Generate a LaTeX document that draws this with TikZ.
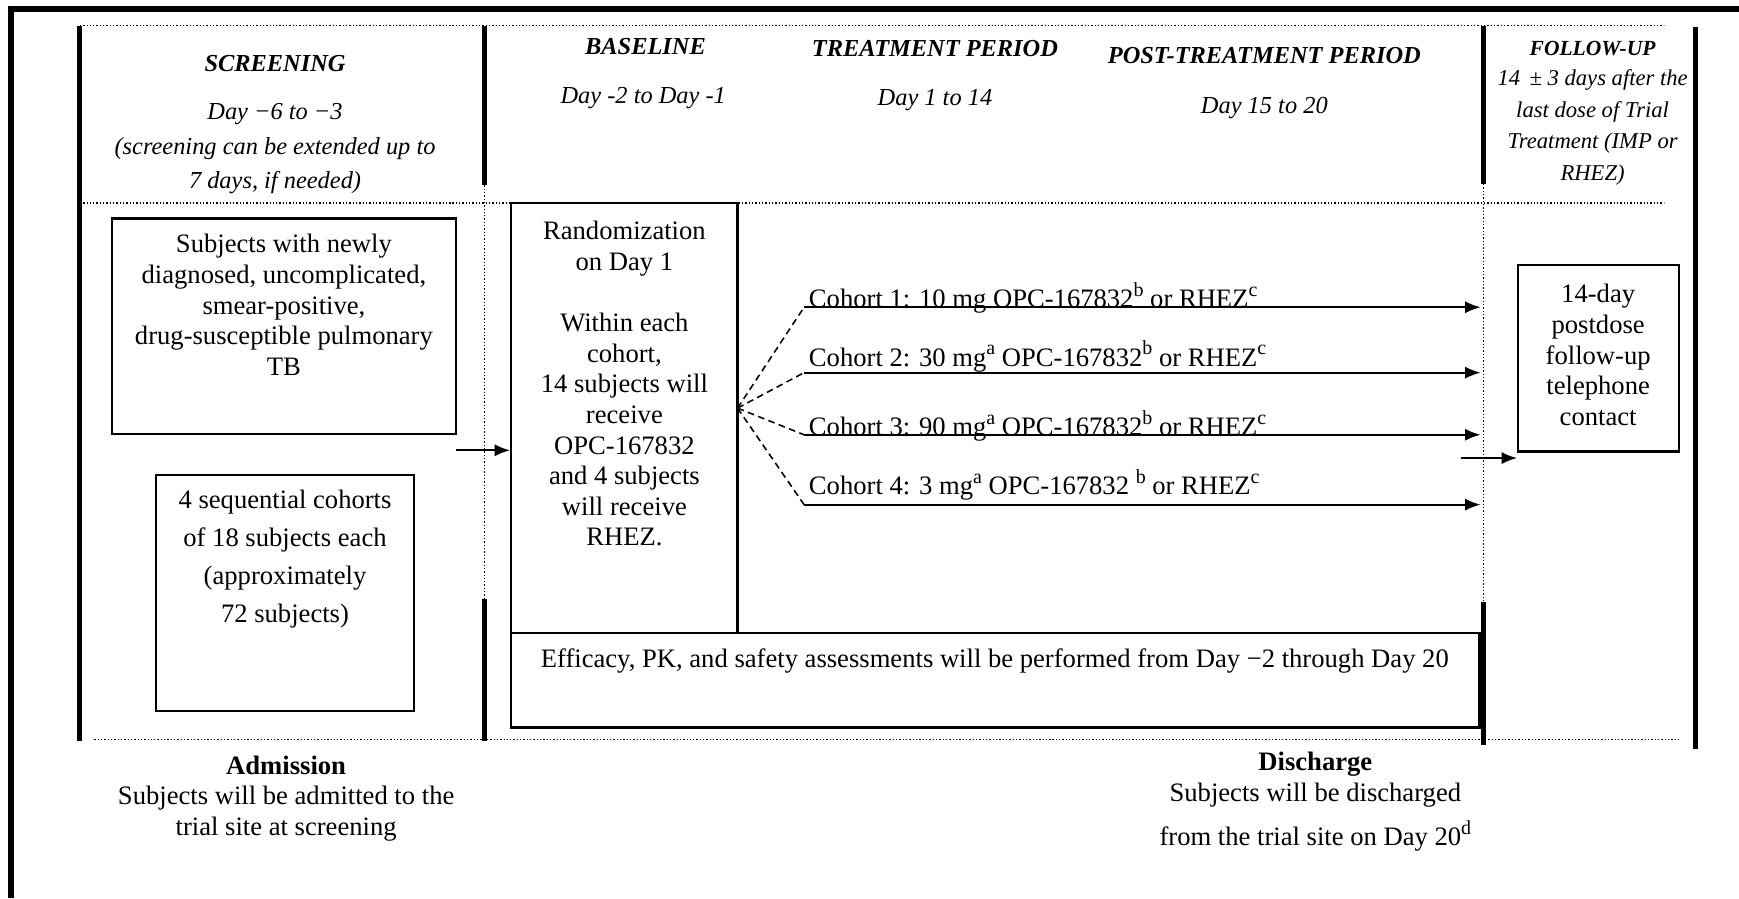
\documentclass[tikz,border=0pt]{standalone}
\usepackage{fontspec}
\setmainfont{Liberation Serif}
\usetikzlibrary{fit,arrows.meta}

\newcommand{\supr}[1]{\raisebox{0.42em}{\fontsize{9}{9}\selectfont #1}}

\tikzset{
  frame/.style={line width=2.5pt},
  bar/.style={line width=2.2pt},
  grid/.style={line width=0.5pt, dash pattern=on 0.6pt off 0.9pt},
  box/.style={draw, line width=1pt, inner sep=0pt},
  txt/.style={align=center, inner sep=0pt, font=\fontsize{12}{13.8}\selectfont},
  head/.style={inner sep=0pt, font=\fontsize{11}{13}\selectfont\bfseries\itshape},
  days/.style={align=center, inner sep=0pt, font=\fontsize{11}{15.5}\selectfont\itshape},
  flow/.style={line width=1pt, -{Latex[length=7pt,width=5.5pt]}},
  split/.style={line width=0.7pt, dash pattern=on 3pt off 2pt},
}

\begin{document}
\begin{tikzpicture}[x=0.5pt,y=-0.5pt]
	\useasboundingbox (0,0) rectangle (1568,810);
	
	% outer frame
	\draw[frame] (1568,8) -- (10,8) -- (10,810);
	
	% period grid
	\draw[grid] (72,23) -- (1500,23);
	\draw[grid] (72,183) -- (1500,183);
	\draw[grid] (85,667) -- (1515,667);
	\draw[grid] (437,167) -- (437,540);
	\draw[grid] (1338,166) -- (1338,543);
	
	\draw[bar] (72,23) -- (72,668);
	\draw[bar] (437,23) -- (437,167);
	\draw[bar] (437,540) -- (437,668);
	\draw[bar] (1338,23) -- (1338,166);
	\draw[bar] (1338,543) -- (1338,672);
	\draw[bar] (1529,24) -- (1529,675);
	
	% headings
	\node[head] (scrhead) at (248,57) {SCREENING};
	\node[days] (scrdays) at (248,134) {Day −6 to −3\\(screening can be extended up to\\7 days, if needed)};
	\node[head] (basehead) at (582,42) {BASELINE};
	\node[days] (basedays) at (580,88) {Day -2 to Day -1};
	\node[head] (trthead) at (843,44) {TREATMENT PERIOD};
	\node[days] (trtdays) at (843,90) {Day 1 to 14};
	\node[head] (posthead) at (1140,50) {POST-TREATMENT PERIOD};
	\node[days] (postdays) at (1140,97) {Day 15 to 20};
	\node[head, font=\fontsize{9.7}{12}\selectfont\bfseries\itshape] (fuhead) at (1436,44) {FOLLOW-UP};
	\node[days, font=\fontsize{10.2}{14.2}\selectfont\itshape] (fudays) at (1436,115) {14 \,± 3 days after the\\last dose of Trial\\Treatment (IMP or\\RHEZ)};
	
	% boxes
	\node[box, fit={(101,197) (411,391)}] (subj) {};
	\node[txt] (subjtxt) at (256,275) {Subjects with newly\\diagnosed, uncomplicated,\\smear-positive,\\drug-susceptible pulmonary\\TB};
	
	\node[box, fit={(141,428) (373,641)}] (coh) {};
	\node[txt, font=\fontsize{12}{17.2}\selectfont] (cohtxt) at (257,504) {4 sequential cohorts\\of 18 subjects each\\(approximately\\72 subjects)};
	
	\node[box, fit={(461,183) (665,571)}] (rand) {};
	\node[txt] (randtxt) at (563,346) {Randomization\\on Day 1\\[13.8pt]Within each\\cohort,\\14 subjects will\\receive\\OPC-167832\\and 4 subjects\\will receive\\RHEZ.};
	
	\node[box, fit={(461,571) (1334,656)}] (eff) {};
	\node[txt] (efftxt) at (897,596) {Efficacy, PK, and safety assessments will be performed from Day −2 through Day 20};
	
	\node[box, fit={(1369,239) (1514,407)}] (fu) {};
	\node[txt] (futxt) at (1441,320) {14-day\\postdose\\follow-up\\telephone\\contact};
	
	% arrows
	\coordinate (entry) at (411,406);
	\draw[flow] (entry) -- (entry -| rand.west);
	
	\coordinate (fan) at (665,368);
	\foreach \i/\y/\b/\lab in {1/277/277/{Cohort 1: 10 mg OPC-167832\supr{b} or RHEZ\supr{c}},
		2/336/330/{Cohort 2: 30 mg\supr{a} OPC-167832\supr{b} or RHEZ\supr{c}},
		3/392/393/{Cohort 3: 90 mg\supr{a} OPC-167832\supr{b} or RHEZ\supr{c}},
		4/455/446/{Cohort 4: 3 mg\supr{a} OPC-167832 \supr{b} or RHEZ\supr{c}}}
	{
		\coordinate (c\i) at (725,\y);
		\draw[split] (fan) -- (c\i);
		\draw[flow] (c\i) -- (c\i -| eff.east);
		\node[txt, anchor=base west] (lab\i) at (729,\b) {\lab};
	}
	
	\coordinate (fuin) at (1317,413);
	\draw[flow] (fuin) -- (fuin -| fu.west);
	
	% admission / discharge
	\node[txt] (adm) at (258,720) {\textbf{Admission}\\Subjects will be admitted to the\\trial site at screening};
	\node[txt] (dis) at (1186,723) {\textbf{Discharge}\\Subjects will be discharged\\[5pt]from the trial site on Day 20\supr{d}};
\end{tikzpicture}
\end{document}
